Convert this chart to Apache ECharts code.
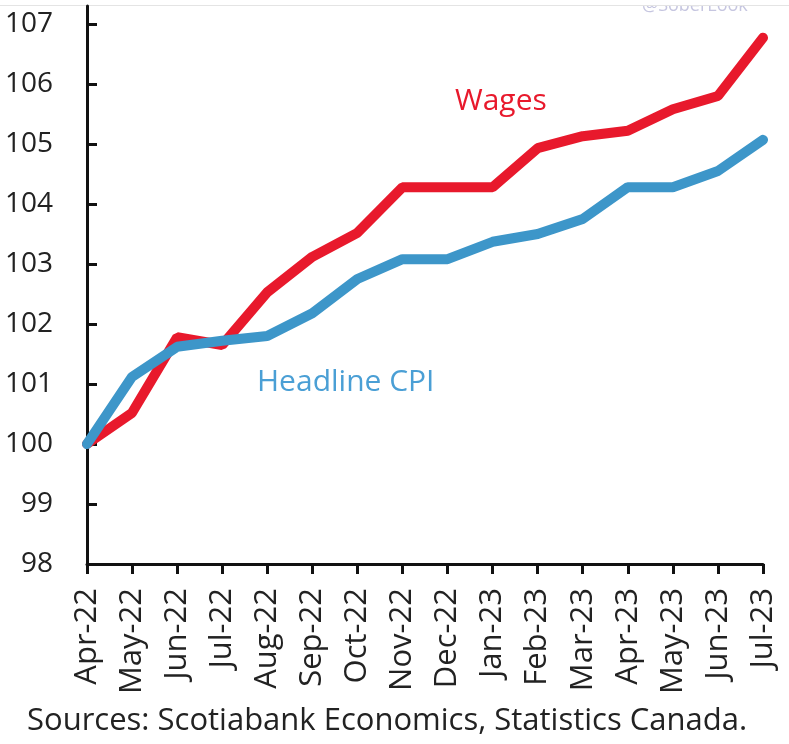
<!DOCTYPE html>
<html>
<head>
<meta charset="utf-8">
<script src="https://cdn.jsdelivr.net/npm/echarts@6/dist/echarts.min.js"></script>
<style>html,body{margin:0;padding:0;background:#fff}#c{width:789px;height:744px}</style>
</head>
<body>
<div id="c"></div>
<script>
const categories = ['Apr-22','May-22','Jun-22','Jul-22','Aug-22','Sep-22','Oct-22','Nov-22','Dec-22','Jan-23','Feb-23','Mar-23','Apr-23','May-23','Jun-23','Jul-23'];
const wages = [100, 100.52, 101.78, 101.65, 102.53, 103.12, 103.52, 104.28, 104.28, 104.28, 104.93, 105.13, 105.22, 105.58, 105.8, 106.77];
const cpi = [100, 101.12, 101.62, 101.72, 101.8, 102.18, 102.75, 103.08, 103.08, 103.37, 103.5, 103.75, 104.28, 104.28, 104.55, 105.07];
const yTicks = [98, 99, 100, 101, 102, 103, 104, 105, 106, 107];

const FONT = '"Open Sans", "Noto Sans", sans-serif';
const chart = echarts.init(document.getElementById('c'));
chart.setOption({
  animation: false,
  backgroundColor: '#fff',
  grid: { left: 87, right: 26, top: 6, bottom: 180 },
  xAxis: {
    type: 'category',
    data: categories,
    boundaryGap: false,
    axisLine: { lineStyle: { color: '#111', width: 3 } },
    axisTick: { show: true, inside: false, length: 10, lineStyle: { color: '#111', width: 3 }, alignWithLabel: true },
    axisLabel: { rotate: 90, margin: 24, fontSize: 31, color: '#222', fontFamily: FONT, interval: 0 },
    splitLine: { show: false }
  },
  yAxis: {
    type: 'value',
    min: 98, max: 107.3, interval: 1,
    axisLine: { show: true, lineStyle: { color: '#111', width: 3 } },
    axisTick: { show: true, inside: true, length: 10, lineStyle: { color: '#111', width: 3 }, customValues: yTicks },
    axisLabel: { fontSize: 28, color: '#222', fontFamily: FONT, margin: 34, customValues: yTicks },
    splitLine: { show: false }
  },
  series: [
    { name: 'Wages', type: 'line', data: wages, symbol: 'none', lineStyle: { color: '#E8192C', width: 10, cap: 'round' } },
    { name: 'Headline CPI', type: 'line', data: cpi, symbol: 'none', lineStyle: { color: '#3D96C9', width: 10, cap: 'round' } }
  ],
  graphic: [
    { type: 'text', left: 642, top: -3, style: { text: '@SoberLook', fontSize: 18, fill: '#c6c6e0', fontFamily: FONT } },
    { type: 'rect', left: 0, top: 0, shape: { width: 789, height: 5 }, style: { fill: '#fff' } },
    { type: 'rect', left: 0, top: 5, shape: { width: 789, height: 1 }, style: { fill: '#e4e4e4' } },
    { type: 'text', left: 455, top: 86, style: { text: 'Wages', fontSize: 30, fill: '#E8192C', fontFamily: FONT } },
    { type: 'text', left: 257, top: 367, style: { text: 'Headline CPI', fontSize: 30, fill: '#4A9FD5', fontFamily: FONT } },
    { type: 'text', left: 27, top: 706, style: { text: 'Sources: Scotiabank Economics, Statistics Canada.', fontSize: 31, fill: '#222', fontFamily: FONT } }
  ]
});
</script>
</body>
</html>
